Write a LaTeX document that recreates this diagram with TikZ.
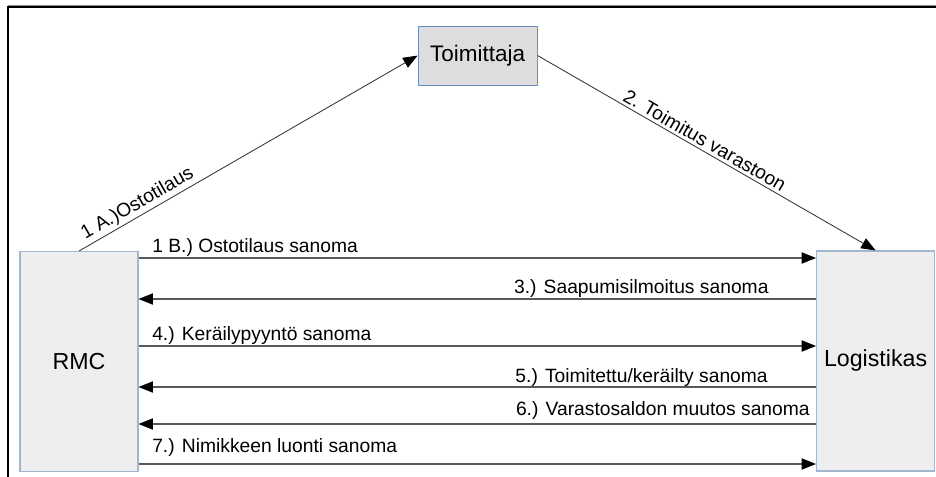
\documentclass[tikz,border=0pt]{standalone}
\usepackage{fontspec,xcolor}
\setmainfont{Liberation Sans}
\usetikzlibrary{arrows.meta,positioning,calc}
\definecolor{supp}{HTML}{DDDDDD}
\definecolor{side}{HTML}{EEEEEE}
\definecolor{edge}{HTML}{6C8EBF}
\definecolor{edgel}{HTML}{A3B6D0}
\tikzset{party/.style={draw=edgel,line width=0.8pt,fill=side,minimum width=2.95cm,minimum height=5.5cm,inner sep=0pt,font=\fontsize{16.5}{18}\selectfont},arrow/.style={-{Triangle[length=3.6mm,width=2.8mm,color=black]},line width=0.9pt,draw=black!65},lab/.style={font=\fontsize{13.7}{15}\selectfont,inner sep=0pt}}
\begin{document}
\begin{tikzpicture}
\useasboundingbox (0,0) rectangle (23.4,-11.925);
\draw[black!45,line width=0.6pt] (0.2,-0.14)--(23.4,-0.14);
\draw[line width=1.2pt] (23.4,-0.18) -| (0.2,-11.925);
\node[draw=edge,line width=0.8pt,fill=supp,minimum width=2.975cm,minimum height=1.475cm,inner sep=0pt,font=\fontsize{16}{18}\selectfont] (toim) at (11.94,-1.39) {Toimittaja};
\node[party] (rmc) at (1.975,-9.04) {RMC};
\node[party] (log) at (21.89,-9.025) {Logistikas};
\draw[arrow,draw=black!80,line width=0.6pt](rmc.north)--node[lab,sloped,above=1.5pt,pos=0.19]{1 A.)Ostotilaus}(toim.west);
\draw[arrow,draw=black!80,line width=0.6pt](toim.east)--node[lab,sloped,above=2pt,pos=0.48]{2. Toimitus varastoon}(log.north);
\draw[arrow](rmc.east|-0,-6.45)--(log.west|-0,-6.45);
\draw[arrow](log.west|-0,-7.475)--(rmc.east|-0,-7.475);
\draw[arrow](rmc.east|-0,-8.65)--(log.west|-0,-8.65);
\draw[arrow](log.west|-0,-9.675)--(rmc.east|-0,-9.675);
\draw[arrow](log.west|-0,-10.6)--(rmc.east|-0,-10.6);
\draw[arrow](rmc.east|-0,-11.6)--(log.west|-0,-11.6);
\node[lab,anchor=base west] (m1) at (3.8,-6.32) {1 B.) Ostotilaus sanoma};
\node[lab,anchor=base east] (m3) at (19.22,-7.33) {3.) Saapumisilmoitus sanoma};
\node[lab,anchor=base west] (m4) at (3.8,-8.52) {4.) Keräilypyyntö sanoma};
\node[lab,anchor=base east] (m5) at (19.2,-9.57) {5.) Toimitettu/keräilty sanoma};
\node[lab,anchor=base east] (m6) at (20.25,-10.38) {6.) Varastosaldon muutos sanoma};
\node[lab,anchor=base west] (m7) at (3.8,-11.32) {7.) Nimikkeen luonti sanoma};
\end{tikzpicture}
\end{document}
